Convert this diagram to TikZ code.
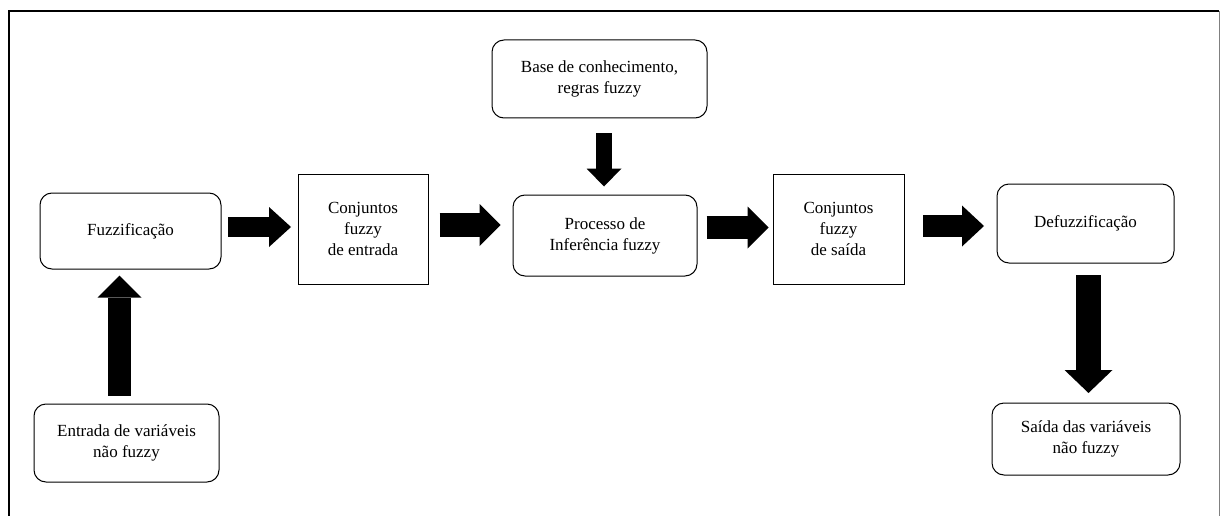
\documentclass[tikz,border=0pt]{standalone}
\usepackage{fontspec}
\setmainfont{Liberation Serif}
\usetikzlibrary{arrows.meta}
\tikzset{
  box/.style={draw, line width=1pt, inner sep=0pt, align=center,
    font=\fontsize{17}{21}\selectfont},
  rbox/.style={box, rounded corners=12pt},
  barrow/.style args={#1/#2/#3}{line width=#1, draw=black,
    -{Triangle[width=#2,length=#3,line width=0pt]}}
}
\begin{document}
\begin{tikzpicture}[x=1pt,y=-1pt]
\useasboundingbox (0,0) rectangle (1220,516);
% frame
\draw[line width=2pt] (8.5,517) -- (8.5,11) -- (1219,11);
\draw[gray, line width=1pt] (1219,11) -- (1219,517);
% nodes
\node[rbox, minimum width=181pt, minimum height=76pt] (fuz) at (130.5,231) {Fuzzificação};
\node[box, minimum width=130pt, minimum height=110pt] (conj1) at (363,229) {Conjuntos\\fuzzy\\de entrada};
\node[rbox, minimum width=184pt, minimum height=81pt] (proc) at (605,235.5) {Processo de\\Inferência fuzzy};
\node[rbox, minimum width=215pt, minimum height=78pt] (base) at (599.5,79) {Base de conhecimento,\\regras fuzzy};
\node[box, minimum width=131pt, minimum height=110pt] (conj2) at (838.5,229) {Conjuntos\\fuzzy\\de saída};
\node[rbox, minimum width=177pt, minimum height=79pt] (defuz) at (1085.5,223.5) {Defuzzificação};
\node[rbox, minimum width=188pt, minimum height=72pt] (saida) at (1086,439) {Saída das variáveis\\não fuzzy};
\node[rbox, minimum width=185pt, minimum height=78pt] (entr) at (126.5,443) {Entrada de variáveis\\não fuzzy};
% block arrows
\draw[barrow=20pt/40pt/22pt] ([xshift=6.5pt,yshift=4pt]fuz.east) -- ++(63,0);
\draw[barrow=24pt/42pt/21pt] ([xshift=11pt,yshift=4pt]conj1.east) -- ++(61,0);
\draw[barrow=23pt/42pt/21pt] ([xshift=9pt,yshift=8pt]proc.east) -- ++(62,0);
\draw[barrow=22pt/41pt/22pt] ([xshift=18.5pt,yshift=3pt]conj2.east) -- ++(61,0);
\draw[barrow=16pt/35pt/18pt] ([xshift=4.5pt,yshift=-15pt]base.south) -- ++(0,53);
\draw[barrow=25pt/48pt/23pt] ([xshift=3pt,yshift=-11.5pt]defuz.south) -- ++(0,118);
\draw[barrow=23pt/44pt/22pt] ([xshift=-7pt,yshift=8pt]entr.north) -- ++(0,-120);
\end{tikzpicture}
\end{document}
